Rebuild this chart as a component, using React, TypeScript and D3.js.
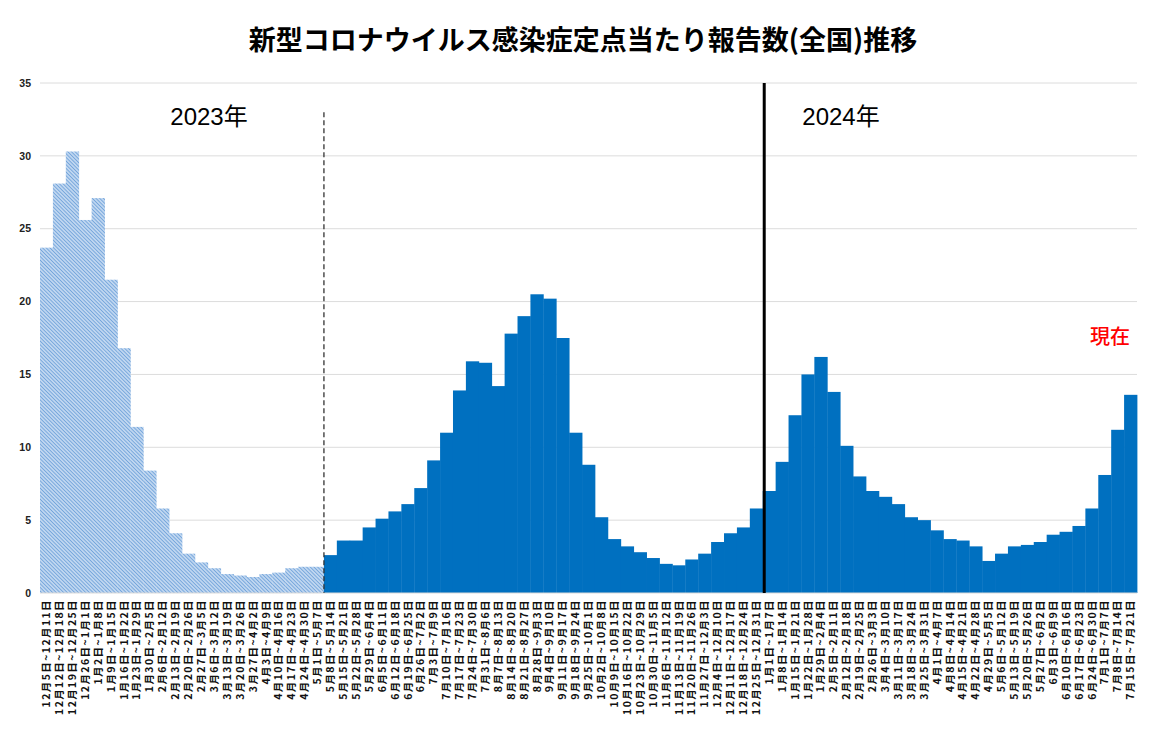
import React from 'react';
import * as d3 from 'd3';

// 週ラベル(2022年12月5日の週〜2024年7月15日の週)
const weekLabels: string[] = [
  '12月5日~12月11日', '12月12日~12月18日', '12月19日~12月25日', '12月26日~1月1日',
  '1月2日~1月8日', '1月9日~1月15日', '1月16日~1月22日', '1月23日~1月29日',
  '1月30日~2月5日', '2月6日~2月12日', '2月13日~2月19日', '2月20日~2月26日',
  '2月27日~3月5日', '3月6日~3月12日', '3月13日~3月19日', '3月20日~3月26日',
  '3月27日~4月2日', '4月3日~4月9日', '4月10日~4月16日', '4月17日~4月23日',
  '4月24日~4月30日', '5月1日~5月7日', '5月8日~5月14日', '5月15日~5月21日',
  '5月22日~5月28日', '5月29日~6月4日', '6月5日~6月11日', '6月12日~6月18日',
  '6月19日~6月25日', '6月26日~7月2日', '7月3日~7月9日', '7月10日~7月16日',
  '7月17日~7月23日', '7月24日~7月30日', '7月31日~8月6日', '8月7日~8月13日',
  '8月14日~8月20日', '8月21日~8月27日', '8月28日~9月3日', '9月4日~9月10日',
  '9月11日~9月17日', '9月18日~9月24日', '9月25日~10月1日', '10月2日~10月8日',
  '10月9日~10月15日', '10月16日~10月22日', '10月23日~10月29日', '10月30日~11月5日',
  '11月6日~11月12日', '11月13日~11月19日', '11月20日~11月26日', '11月27日~12月3日',
  '12月4日~12月10日', '12月11日~12月17日', '12月18日~12月24日', '12月25日~12月31日',
  '1月1日~1月7日', '1月8日~1月14日', '1月15日~1月21日', '1月22日~1月28日',
  '1月29日~2月4日', '2月5日~2月11日', '2月12日~2月18日', '2月19日~2月25日',
  '2月26日~3月3日', '3月4日~3月10日', '3月11日~3月17日', '3月18日~3月24日',
  '3月25日~3月31日', '4月1日~4月7日', '4月8日~4月14日', '4月15日~4月21日',
  '4月22日~4月28日', '4月29日~5月5日', '5月6日~5月12日', '5月13日~5月19日',
  '5月20日~5月26日', '5月27日~6月2日', '6月3日~6月9日', '6月10日~6月16日',
  '6月17日~6月23日', '6月24日~6月30日', '7月1日~7月7日', '7月8日~7月14日',
  '7月15日~7月21日',
];

// 5類移行前(5月7日まで)の値
const valuesBefore: number[] = [
  23.7, 28.1, 30.3, 25.6, 27.1, 21.5, 16.8, 11.4, 8.4, 5.8, 4.1,
  2.7, 2.1, 1.7, 1.3, 1.2, 1.1, 1.3, 1.4, 1.7, 1.8, 1.8,
];

// 定点把握(5月8日以降)の値
const valuesAfter: number[] = [
  2.6, 3.6, 3.6, 4.5, 5.1, 5.6, 6.1, 7.2, 9.1, 11.0, 13.9, 15.9, 15.8, 14.2,
  17.8, 19.0, 20.5, 20.2, 17.5, 11.0, 8.8, 5.2, 3.7, 3.2, 2.8, 2.4, 2.0, 1.9,
  2.3, 2.7, 3.5, 4.1, 4.5, 5.8,
  7.0, 9.0, 12.2, 15.0, 16.2, 13.8, 10.1, 8.0, 7.0, 6.6, 6.1, 5.2, 5.0, 4.3,
  3.7, 3.6, 3.2, 2.2, 2.7, 3.2, 3.3, 3.5, 4.0, 4.2, 4.6, 5.8, 8.1, 11.2, 13.6,
];

const yTicks: number[] = [0, 5, 10, 15, 20, 25, 30, 35];

const W = 1163;
const H = 737;
const margin = { top: 83, right: 26, bottom: 144, left: 40 };

export default function App() {
  const values = [...valuesBefore, ...valuesAfter];
  const data = weekLabels.map((label, i) => ({ label, value: values[i], hatched: i < valuesBefore.length }));

  const x = d3.scaleBand<string>()
    .domain(weekLabels)
    .range([margin.left, W - margin.right])
    .padding(0);

  const y = d3.scaleLinear()
    .domain([0, 35])
    .range([H - margin.bottom, margin.top]);

  const bw = x.bandwidth();
  const splitX = x(weekLabels[valuesBefore.length])!; // 5月8日週の左端
  const yearX = x('1月1日~1月7日')! + 1.5; // 2024年の開始

  const font = '"Noto Sans CJK JP", "Noto Sans", sans-serif';
  const numFont = '"Liberation Sans", Arial, sans-serif';

  return (
    <svg width={W} height={H} style={{ position: 'absolute', left: 0, top: 0, background: '#fff' }}>
      <defs>
        <pattern id="hatch" width="2.6" height="2.6" patternUnits="userSpaceOnUse" patternTransform="rotate(-45)">
          <rect width="2.6" height="2.6" fill="#bfd6f0" />
          <line x1="0" y1="0" x2="0" y2="2.6" stroke="#6299d6" strokeWidth="1.4" />
        </pattern>
      </defs>

      <text x={583} y={50} textAnchor="middle" fontFamily={font} fontWeight={700} fontSize={27} fill="#000">
        新型コロナウイルス感染症定点当たり報告数(全国)推移
      </text>

      {/* グリッド線 */}
      {yTicks.map(t => (
        <g key={t}>
          {t > 0 && (
            <line x1={margin.left} x2={W - margin.right} y1={y(t)} y2={y(t)} stroke="#dcdcdc" strokeWidth={1} />
          )}
          <text x={31} y={y(t)} dy="0.35em" textAnchor="end" fontFamily={numFont} fontWeight={700} fontSize={10.5} fill="#222">
            {t}
          </text>
        </g>
      ))}

      {/* 棒 */}
      {data.map(d => (
        <rect
          key={d.label}
          x={x(d.label)!}
          y={y(d.value)}
          width={bw + 0.4}
          height={y(0) - y(d.value)}
          fill={d.hatched ? 'url(#hatch)' : '#0070c0'}
        />
      ))}

      <line x1={margin.left} x2={W - margin.right} y1={y(0)} y2={y(0)} stroke="#d9d9d9" strokeWidth={1} />

      {/* 区切り線 */}
      <line x1={splitX} x2={splitX} y1={y(33)} y2={y(0)} stroke="#333" strokeWidth={1.3} strokeDasharray="5,3" />
      <line x1={yearX} x2={yearX} y1={y(35)} y2={y(0)} stroke="#000" strokeWidth={3} />

      <text x={209} y={125} textAnchor="middle" fontFamily={numFont} fontSize={24} fill="#000">
        2023<tspan fontFamily={font}>年</tspan>
      </text>
      <text x={841} y={125} textAnchor="middle" fontFamily={numFont} fontSize={24} fill="#000">
        2024<tspan fontFamily={font}>年</tspan>
      </text>
      <text x={1110} y={344} textAnchor="middle" fontFamily={font} fontWeight={500} fontSize={20} fill="#ff0000">
        現在
      </text>

      {/* x軸ラベル */}
      {weekLabels.map(l => {
        const cx = x(l)! + bw / 2;
        const ty = y(0) + 6;
        return (
          <text
            key={l}
            transform={`translate(${cx},${ty}) rotate(-90)`}
            dy="0.35em"
            textAnchor="end"
            fontFamily={font}
            fontWeight={700}
            fontSize={10.5}
            letterSpacing={1.4}
            fill="#111"
          >
            {l}
          </text>
        );
      })}
    </svg>
  );
}
